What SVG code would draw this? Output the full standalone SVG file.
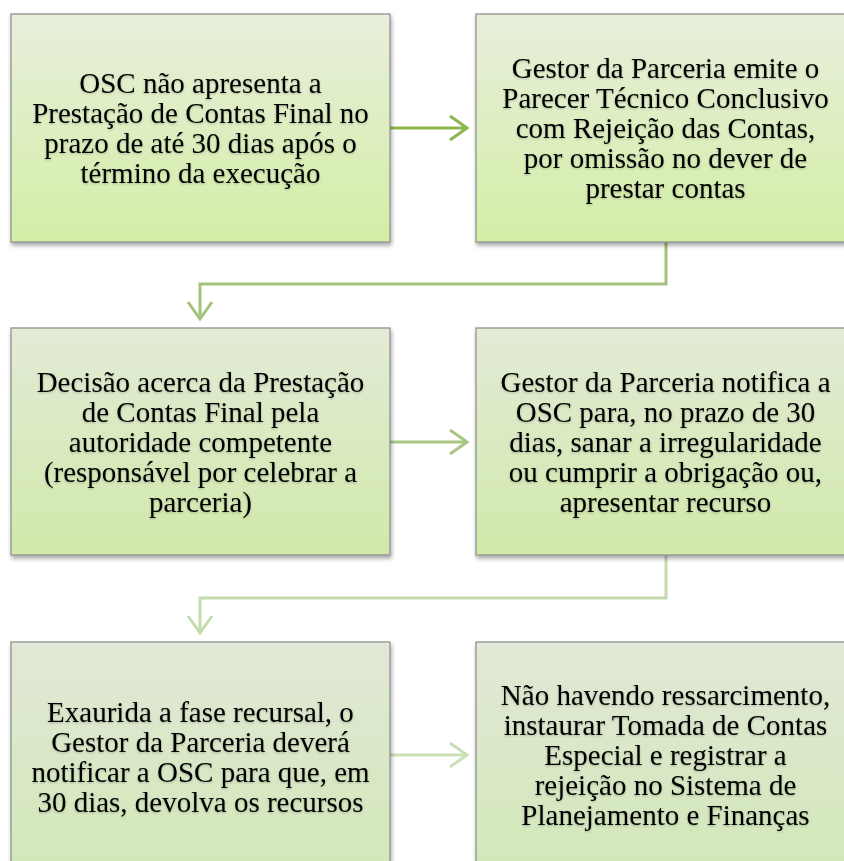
<svg xmlns="http://www.w3.org/2000/svg" width="844" height="861" viewBox="0 0 844 861">
<defs>
<linearGradient id="g1" x1="0" y1="0" x2="0" y2="1"><stop offset="0" stop-color="#e8efdc"/><stop offset="1" stop-color="#d3eea6"/></linearGradient>
<linearGradient id="g2" x1="0" y1="0" x2="0" y2="1"><stop offset="0" stop-color="#e2ebd6"/><stop offset="1" stop-color="#d1e9aa"/></linearGradient>
<linearGradient id="g3" x1="0" y1="0" x2="0" y2="1"><stop offset="0" stop-color="#e1e8d7"/><stop offset="1" stop-color="#d2e8b8"/></linearGradient>
<filter id="sh" x="-5%" y="-5%" width="115%" height="115%"><feDropShadow dx="1" dy="3" stdDeviation="2" flood-color="#000" flood-opacity="0.35"/></filter>
<filter id="ts" x="-5%" y="-10%" width="110%" height="130%"><feDropShadow dx="0" dy="1" stdDeviation="1.2" flood-color="#000" flood-opacity="0.25"/></filter>
</defs>
<style>
.box{stroke:#8a8a8a;stroke-width:1.2;filter:url(#sh)}
.t{font-family:"Liberation Serif","Times New Roman",serif;font-size:29px;fill:#000;text-anchor:middle;filter:url(#ts)}
.c{fill:none;stroke-width:3}
</style>
<rect width="844" height="861" fill="#fff"/>
<g id="connectors">
<path class="c" d="M390,128 H467" stroke="#8db54f"/>
<path d="M450,116 L467,128 L450,140" fill="none" stroke="#8db54f" stroke-width="3"/>
<path class="c" d="M666,242 V284 H200 V319" stroke="#a4c27a"/>
<path d="M188,302 L200,319 L212,302" fill="none" stroke="#a4c27a" stroke-width="3"/>
<path class="c" d="M390,442 H467" stroke="#a8c683"/>
<path d="M450,430 L467,442 L450,454" fill="none" stroke="#a8c683" stroke-width="3"/>
<path class="c" d="M666,555 V598 H200 V633" stroke="#c4dbae"/>
<path d="M188,616 L200,633 L212,616" fill="none" stroke="#c4dbae" stroke-width="3"/>
<path class="c" d="M390,755 H467" stroke="#cbdfb7"/>
<path d="M450,743 L467,755 L450,767" fill="none" stroke="#cbdfb7" stroke-width="3"/>
</g>
<g id="n1">
<rect class="box" x="11" y="14" width="379" height="228" fill="url(#g1)"/>
<text class="t"><tspan x="200.5" y="93">OSC não apresenta a</tspan><tspan x="200.5" y="123">Prestação de Contas Final no</tspan><tspan x="200.5" y="153">prazo de até 30 dias após o</tspan><tspan x="200.5" y="183">término da execução</tspan></text>
</g>
<g id="n2">
<rect class="box" x="476" y="14" width="379" height="228" fill="url(#g1)"/>
<text class="t"><tspan x="665.5" y="78">Gestor da Parceria emite o</tspan><tspan x="665.5" y="108">Parecer Técnico Conclusivo</tspan><tspan x="665.5" y="138">com Rejeição das Contas,</tspan><tspan x="665.5" y="168">por omissão no dever de</tspan><tspan x="665.5" y="198">prestar contas</tspan></text>
</g>
<g id="n3">
<rect class="box" x="11" y="328" width="379" height="227" fill="url(#g2)"/>
<text class="t"><tspan x="200.5" y="392">Decisão acerca da Prestação</tspan><tspan x="200.5" y="422">de Contas Final pela</tspan><tspan x="200.5" y="452">autoridade competente</tspan><tspan x="200.5" y="482">(responsável por celebrar a</tspan><tspan x="200.5" y="512">parceria)</tspan></text>
</g>
<g id="n4">
<rect class="box" x="476" y="328" width="379" height="227" fill="url(#g2)"/>
<text class="t"><tspan x="665.5" y="392">Gestor da Parceria notifica a</tspan><tspan x="665.5" y="422">OSC para, no prazo de 30</tspan><tspan x="665.5" y="452">dias, sanar a irregularidade</tspan><tspan x="665.5" y="482">ou cumprir a obrigação ou,</tspan><tspan x="665.5" y="512">apresentar recurso</tspan></text>
</g>
<g id="n5">
<rect class="box" x="11" y="642" width="379" height="228" fill="url(#g3)"/>
<text class="t"><tspan x="200.5" y="722">Exaurida a fase recursal, o</tspan><tspan x="200.5" y="752">Gestor da Parceria deverá</tspan><tspan x="200.5" y="782">notificar a OSC para que, em</tspan><tspan x="200.5" y="812">30 dias, devolva os recursos</tspan></text>
</g>
<g id="n6">
<rect class="box" x="476" y="642" width="379" height="228" fill="url(#g3)"/>
<text class="t"><tspan x="665.5" y="705">Não havendo ressarcimento,</tspan><tspan x="665.5" y="735">instaurar Tomada de Contas</tspan><tspan x="665.5" y="765">Especial e registrar a</tspan><tspan x="665.5" y="795">rejeição no Sistema de</tspan><tspan x="665.5" y="825">Planejamento e Finanças</tspan></text>
</g>
</svg>
